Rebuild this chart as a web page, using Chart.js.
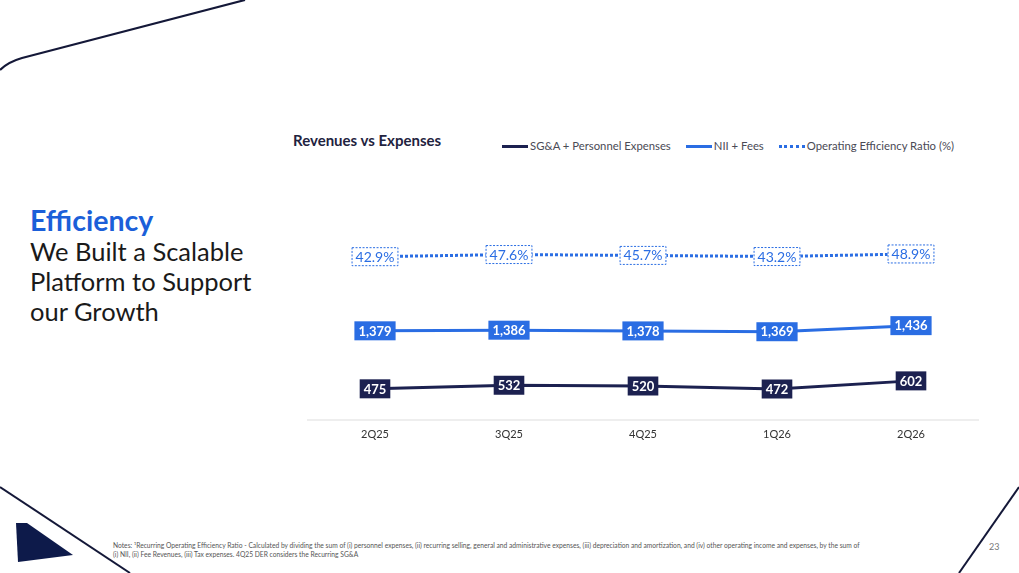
<!DOCTYPE html>
<html>
<head>
<meta charset="utf-8">
<script src="https://cdn.jsdelivr.net/npm/chart.js@4.4.1/dist/chart.umd.min.js"></script>
<style>
  html, body { margin: 0; padding: 0; background: #fff; }
  body { width: 1019px; height: 573px; position: relative; overflow: hidden; font-family: Lato, "Noto Sans", sans-serif; }
  #deco { position: absolute; left: 0; top: 0; }
  #headline { position: absolute; left: 30px; top: 204px; font-size: 25.5px; line-height: 30px; color: #1a1a1a; }
  #headline .accent { display: block; color: #1b5fd9; font-weight: bold; font-size: 28.5px; line-height: 32px; }
  #chartTitle { position: absolute; left: 293px; top: 131px; font-size: 15px; font-weight: bold; color: #1f2340; }
  #legend { position: absolute; left: 502px; top: 139px; display: flex; font-size: 11.3px; color: #4a4a55; }
  #legend .item { display: flex; align-items: center; margin-right: 15px; }
  #legend .swatch { width: 26px; height: 0; margin-right: 2px; margin-top: 1px; }
  #chartBox { position: absolute; left: 298px; top: 230px; width: 700px; height: 220px; }
  #notes { position: absolute; left: 113px; top: 541px; font-size: 6.7px; line-height: 9px; color: #555; white-space: nowrap; }
  #page { position: absolute; left: 989px; top: 541px; font-size: 9px; color: #777; }
</style>
</head>
<body>
<svg id="deco" width="1019" height="573">
  <path d="M0,70 Q8,62 22,58 L245,0" fill="none" stroke="#141838" stroke-width="2.2"/>
  <line x1="0" y1="487" x2="130" y2="573" stroke="#141838" stroke-width="2"/>
  <polygon points="16,523 27,523 73,555 18,562" fill="#0d1a4a"/>
  <line x1="959" y1="573" x2="1019" y2="487" stroke="#141838" stroke-width="2"/>
</svg>

<div id="headline"><span class="accent">Efficiency</span>We Built a Scalable<br>Platform to Support<br>our Growth</div>

<div id="chartTitle">Revenues vs Expenses</div>
<div id="legend"></div>

<div id="chartBox"><canvas id="chart"></canvas></div>

<div id="notes">Notes: ¹Recurring Operating Efficiency Ratio - Calculated by dividing the sum of (i) personnel expenses, (ii) recurring selling, general and administrative expenses, (iii) depreciation and amortization, and (iv) other operating income and expenses, by the sum of<br>(i) NII, (ii) Fee Revenues, (iii) Tax expenses. 4Q25 DER considers the Recurring SG&amp;A</div>
<div id="page">23</div>

<script>
  // Chart data
  const quarters = ["2Q25", "3Q25", "4Q25", "1Q26", "2Q26"];
  const sgaExpenses = [475, 532, 520, 472, 602];
  const niiFees = [1379, 1386, 1378, 1369, 1436];
  const efficiencyRatio = [42.9, 47.6, 45.7, 43.2, 48.9];

  const navy = "#1c2150";
  const blue = "#2a6de3";

  // Legend built by hand so it sits next to the title
  const legendItems = [
    { text: "SG&A + Personnel Expenses", border: "3px solid " + navy },
    { text: "NII + Fees", border: "3px solid " + blue },
    { text: "Operating Efficiency Ratio (%)", border: "3px dotted " + blue },
  ];
  const legendEl = document.getElementById("legend");
  legendItems.forEach((it) => {
    const item = document.createElement("div");
    item.className = "item";
    const sw = document.createElement("span");
    sw.className = "swatch";
    sw.style.borderTop = it.border;
    const label = document.createElement("span");
    label.textContent = it.text;
    item.appendChild(sw);
    item.appendChild(label);
    legendEl.appendChild(item);
  });

  // Draws the boxed value labels on top of every point
  const boxLabels = {
    id: "boxLabels",
    afterDatasetsDraw(chart) {
      const ctx = chart.ctx;
      chart.data.datasets.forEach((ds, i) => {
        const meta = chart.getDatasetMeta(i);
        const st = ds.labelStyle;
        meta.data.forEach((pt, j) => {
          const txt = st.format(ds.data[j]);
          ctx.save();
          ctx.font = st.font;
          const w = ctx.measureText(txt).width + 2 * st.padX;
          const h = 19;
          const x = pt.x - w / 2;
          const y = pt.y - h / 2;
          ctx.fillStyle = st.bg;
          ctx.fillRect(x, y, w, h);
          if (st.border) {
            ctx.setLineDash([2, 1.5]);
            ctx.strokeStyle = st.border;
            ctx.lineWidth = 1;
            ctx.strokeRect(x + 0.5, y + 0.5, w - 1, h - 1);
          }
          ctx.setLineDash([]);
          ctx.fillStyle = st.color;
          ctx.textAlign = "center";
          ctx.textBaseline = "middle";
          ctx.fillText(txt, pt.x, pt.y + 0.5);
          ctx.restore();
        });
      });
    },
  };

  const fmtNum = (v) => v.toLocaleString("en-US");
  const fmtPct = (v) => v.toFixed(1) + "%";

  new Chart(document.getElementById("chart").getContext("2d"), {
    type: "line",
    data: {
      labels: quarters,
      datasets: [
        {
          label: "Operating Efficiency Ratio (%)",
          data: efficiencyRatio,
          yAxisID: "yPct",
          borderColor: blue,
          borderWidth: 3,
          borderDash: [3, 2],
          pointRadius: 0,
          labelStyle: { format: fmtPct, font: "14px Lato", bg: "#fff", border: blue, color: blue, padX: 4 },
        },
        {
          label: "NII + Fees",
          data: niiFees,
          yAxisID: "yNii",
          borderColor: blue,
          borderWidth: 3,
          pointRadius: 0,
          labelStyle: { format: fmtNum, font: "bold 13px Lato", bg: blue, color: "#fff", padX: 4 },
        },
        {
          label: "SG&A + Personnel Expenses",
          data: sgaExpenses,
          yAxisID: "ySga",
          borderColor: navy,
          borderWidth: 3,
          pointRadius: 0,
          labelStyle: { format: fmtNum, font: "bold 13px Lato", bg: navy, color: "#fff", padX: 4 },
        },
      ],
    },
    options: {
      responsive: true,
      maintainAspectRatio: false,
      animation: false,
      layout: { padding: { left: 10, right: 20, top: 10, bottom: 0 } },
      plugins: {
        legend: { display: false },
        tooltip: { enabled: false },
      },
      scales: {
        x: {
          offset: true,
          grid: { display: false },
          border: { display: true, color: "#eeeeee", width: 2 },
          ticks: { color: "#333", font: { family: "Lato", size: 11 }, padding: 0 },
          afterFit: (scale) => { scale.height = 30; },
        },
        ySga: { display: false, min: -24, max: 2856 },
        yNii: { display: false, min: 398, max: 2378 },
        yPct: { display: false, min: -316.4, max: 79.6 },
      },
    },
    plugins: [boxLabels],
  });
</script>
</body>
</html>
